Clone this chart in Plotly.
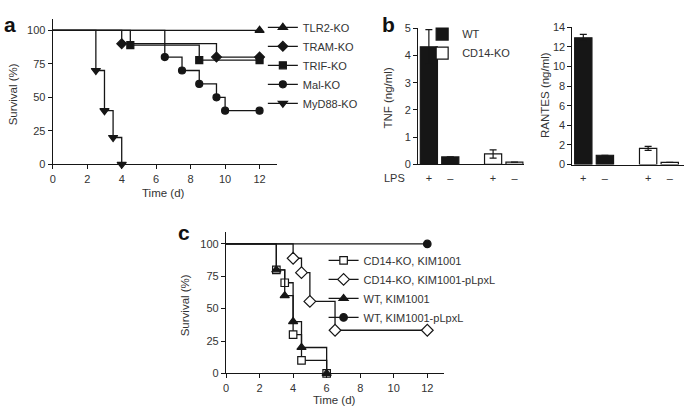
import plotly.graph_objects as go

# ---------------- data ----------------
# Panel a: survival (%) vs time (d)
a_tlr2_days = [0, 12]
a_tlr2_surv = [100, 100]
a_tram_days = [0, 4, 9.5, 12]
a_tram_surv = [100, 90, 80, 80]
a_trif_days = [0, 4.5, 8.5, 12]
a_trif_surv = [100, 88.9, 77.8, 77.8]
a_mal_days = [0, 6.5, 7.5, 8.5, 9.5, 10, 12]
a_mal_surv = [100, 80, 70, 60, 50, 40, 40]
a_myd_days = [0, 2.5, 3, 3.5, 4]
a_myd_surv = [100, 70, 40, 20, 0]

# Panel b: cytokines
b_categories = ["WT LPS+", "WT LPS-", " ", "CD14-KO LPS+", "CD14-KO LPS-"]
b_wt_cats = ["WT LPS+", "WT LPS-"]
b_ko_cats = ["CD14-KO LPS+", "CD14-KO LPS-"]
b_lps_labels = ["+", "\u2013", "+", "\u2013"]
tnf_wt = [4.32, 0.27]
tnf_wt_err = [0.63, 0]
tnf_ko = [0.38, 0.08]
tnf_ko_err = [0.15, 0]
rantes_wt = [12.9, 0.95]
rantes_wt_err = [0.35, 0]
rantes_ko = [1.65, 0.22]
rantes_ko_err = [0.2, 0]

# Panel c: survival (%) vs time (d)
c_cdk_days = [0, 3, 3.5, 4, 4.5, 6]
c_cdk_surv = [100, 80, 70, 30, 10, 0]
c_cdp_days = [0, 4, 4.5, 5, 6.5, 12]
c_cdp_surv = [100, 88.9, 77.8, 55.6, 33.3, 33.3]
c_wtk_days = [0, 3, 3.5, 4, 4.5, 6]
c_wtk_surv = [100, 80, 60, 40, 20, 0]
c_wtp_days = [0, 12]
c_wtp_surv = [100, 100]

# ---------------- style ----------------
W, H = 685, 416
INK = "#161616"
TXT = "#333333"
FONT = "Liberation Sans, Arial, sans-serif"


def fx(p):
    return p / W


def fy(p):
    return 1 - p / H


fig = go.Figure()


def km(days, surv, name, symbol, size, xa, ya, leg, fill=INK):
    n = len(days)
    # curve with markers only at events (no marker at the starting point)
    fig.add_trace(go.Scatter(
        x=days, y=surv, name=name, mode="lines+markers", showlegend=False,
        line=dict(shape="hv", color=INK, width=1.3),
        marker=dict(symbol=symbol, size=[0] + [size] * (n - 1), color=fill, opacity=1,
                    line=dict(color=INK, width=[0] + [1.2] * (n - 1))),
        xaxis=xa, yaxis=ya, cliponaxis=False,
    ))
    # legend entry
    fig.add_trace(go.Scatter(
        x=[None], y=[None], name=name, mode="lines+markers",
        line=dict(color=INK, width=1.3),
        marker=dict(symbol=symbol, size=size, color=fill, opacity=1, line=dict(color=INK, width=1.2)),
        xaxis=xa, yaxis=ya, legend=leg, showlegend=True,
    ))


# panel a
km(a_tlr2_days, a_tlr2_surv, "TLR2-KO", "triangle-up", 8, "x", "y", "legend")
km(a_tram_days, a_tram_surv, "TRAM-KO", "diamond", 7.5, "x", "y", "legend")
km(a_trif_days, a_trif_surv, "TRIF-KO", "square", 7, "x", "y", "legend")
km(a_mal_days, a_mal_surv, "Mal-KO", "circle", 7, "x", "y", "legend")
km(a_myd_days, a_myd_surv, "MyD88-KO", "triangle-down", 8, "x", "y", "legend")


# panel b
def bar(cats, vals, errs, name, color, xa, ya, show):
    fig.add_trace(go.Bar(
        x=cats, y=vals, name=name, width=0.8,
        marker=dict(color=color, line=dict(color=INK, width=1.2)),
        error_y=dict(type="data", array=errs, visible=True, color=INK, thickness=1.2, width=3.5),
        xaxis=xa, yaxis=ya, legend="legend2", showlegend=show,
    ))


bar(b_wt_cats, tnf_wt, tnf_wt_err, "WT", INK, "x2", "y2", True)
bar(b_ko_cats, tnf_ko, tnf_ko_err, "CD14-KO", "white", "x2", "y2", True)
bar(b_wt_cats, rantes_wt, rantes_wt_err, "WT", INK, "x3", "y3", False)
bar(b_ko_cats, rantes_ko, rantes_ko_err, "CD14-KO", "white", "x3", "y3", False)

# panel c
km(c_cdk_days, c_cdk_surv, "CD14-KO, KIM1001", "square", 7.5, "x4", "y4", "legend3", "white")
km(c_cdp_days, c_cdp_surv, "CD14-KO, KIM1001-pLpxL", "diamond", 9, "x4", "y4", "legend3", "white")
km(c_wtk_days, c_wtk_surv, "WT, KIM1001", "triangle-up", 8, "x4", "y4", "legend3")
km(c_wtp_days, c_wtp_surv, "WT, KIM1001-pLpxL", "circle", 7.5, "x4", "y4", "legend3")

axis_common = dict(
    showline=True, linecolor=INK, linewidth=1.2, ticks="outside", ticklen=4,
    tickwidth=1.2, tickcolor=INK, showgrid=False, zeroline=False,
    tickfont=dict(family=FONT, size=11, color=TXT), fixedrange=True,
)
bar_x = dict(axis_common, type="category", categoryorder="array", categoryarray=b_categories,
             tickmode="array", tickvals=b_wt_cats + b_ko_cats, ticktext=b_lps_labels,
             tickcolor="rgba(0,0,0,0)", ticklen=3)

leg_common = dict(xanchor="left", yanchor="top", bgcolor="rgba(0,0,0,0)",
                  font=dict(family=FONT, size=11, color=TXT), tracegroupgap=0, borderwidth=0)

fig.update_layout(
    width=W, height=H, margin=dict(l=0, r=0, t=0, b=0),
    paper_bgcolor="white", plot_bgcolor="white", barmode="overlay",
    font=dict(family=FONT, size=11, color=TXT),
    xaxis=dict(axis_common, domain=[fx(50), fx(275)], range=[0, 13], tickmode="array",
               tickvals=[0, 2, 4, 6, 8, 10, 12], anchor="y"),
    yaxis=dict(axis_common, domain=[fy(163), fy(13)], range=[0, 108.7], tickmode="array",
               tickvals=[0, 25, 50, 75, 100], anchor="x"),
    xaxis2=dict(bar_x, domain=[fx(417), fx(523)], range=[-0.5, 4.43], anchor="y2"),
    yaxis2=dict(axis_common, domain=[fy(163), fy(23)], range=[0, 5], dtick=1, anchor="x2"),
    xaxis3=dict(bar_x, domain=[fx(572), fx(684)], range=[-0.5, 4.66], anchor="y3"),
    yaxis3=dict(axis_common, domain=[fy(163.3), fy(21.7)], range=[0, 14], dtick=2, anchor="x3"),
    xaxis4=dict(axis_common, domain=[fx(224), fx(443)], range=[0, 13], tickmode="array",
                tickvals=[0, 2, 4, 6, 8, 10, 12], anchor="y4"),
    yaxis4=dict(axis_common, domain=[fy(378.3), fy(232.3)], range=[0, 109.5], tickmode="array",
                tickvals=[0, 25, 50, 75, 100], anchor="x4"),
    legend=dict(leg_common, x=fx(261), y=fy(7)),
    legend2=dict(leg_common, x=fx(421), y=fy(14)),
    legend3=dict(leg_common, x=fx(322), y=fy(247)),
    showlegend=True,
)

ann = []


def text(x, y, s, size=11, angle=0, bold=False):
    ann.append(dict(x=fx(x), y=fy(y), xref="paper", yref="paper", text=f"<b>{s}</b>" if bold else s,
                    showarrow=False, textangle=angle, xanchor="center", yanchor="middle",
                    font=dict(family=FONT, size=size, color="#111" if bold else TXT)))


text(7, 19, "a", 21, bold=True)
text(387, 19, "b", 21, bold=True)
text(182, 233, "c", 21, bold=True)
text(10, 91, "Survival (%)", 11.5, angle=-90)
text(161, 193, "Time (d)", 11.5)
text(387, 94, "TNF (ng/ml)", 11.5, angle=-90)
text(545, 92, "RANTES (ng/ml)", 11.5, angle=-90)
text(393, 177, "LPS", 11)
text(183, 308, "Survival (%)", 11.5, angle=-90)
text(333, 406, "Time (d)", 11.5)
fig.update_layout(annotations=ann)

fig.write_html("out.html", config={"displayModeBar": False},
               post_script="document.body.style.margin='0';")
